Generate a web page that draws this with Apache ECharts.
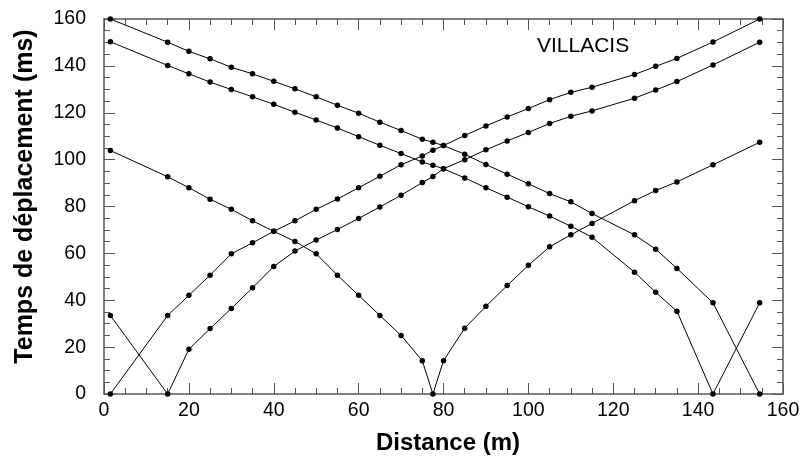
<!DOCTYPE html>
<html>
<head>
<meta charset="utf-8">
<script src="https://cdn.jsdelivr.net/npm/echarts@6/dist/echarts.min.js"></script>
<style>
html,body{margin:0;padding:0;background:#fff;}
#chart{width:804px;height:464px;}
</style>
</head>
<body>
<div id="chart"></div>
<script>
// Distances (m) of the geophones / shot points
const distances = [1.5, 15, 20, 25, 30, 35, 40, 45, 50, 55, 60, 65, 70, 75, 77.5, 80, 85, 90, 95, 100, 105, 110, 115, 125, 130, 135, 143.5, 154.5];

// Travel times (ms) for each shot
const shot154 = [160.0, 150.1, 146.2, 143.0, 139.4, 136.6, 133.4, 130.2, 126.8, 123.2, 119.8, 116.0, 112.4, 108.7, 107.4, 106.0, 102.3, 97.9, 93.8, 89.7, 85.5, 82.0, 77.0, 67.9, 61.8, 53.6, 38.9, 0];
const shot143 = [150.3, 140.2, 136.6, 133.1, 129.9, 126.8, 123.6, 120.2, 116.9, 113.5, 109.8, 106.1, 102.6, 99.0, 97.6, 96.1, 92.2, 88.0, 84.0, 79.9, 75.9, 71.6, 66.9, 52.0, 43.4, 35.3, 0, 38.9];
const shot77 = [103.9, 92.7, 88.0, 83.1, 78.8, 73.9, 69.4, 65.1, 59.8, 50.7, 42.1, 33.5, 25.0, 14.2, 0, 14.2, 28.1, 37.4, 46.3, 54.9, 62.8, 67.9, 72.8, 82.5, 86.8, 90.5, 97.8, 107.4];
const shot15 = [33.5, 0, 19.1, 27.9, 36.5, 45.3, 54.4, 61.0, 65.7, 70.2, 74.9, 79.8, 84.8, 90.2, 92.8, 96.1, 100.0, 104.2, 108.0, 111.6, 115.4, 118.5, 120.8, 126.2, 129.7, 133.3, 140.4, 150.1];
const shot1 = [0, 33.5, 42.1, 50.7, 59.8, 64.5, 69.4, 73.9, 78.8, 83.2, 88.0, 92.9, 97.8, 101.6, 104.0, 106.0, 110.3, 114.4, 118.2, 121.8, 125.6, 128.7, 130.9, 136.3, 139.8, 143.2, 150.2, 160.0];

const xTitle = 'Distance (m)';
const yTitle = 'Temps de déplacement (ms)';
const siteLabel = 'VILLACIS';

const FONT = '"Liberation Sans", Arial, Helvetica, sans-serif';
const AXIS_COLOR = '#555';

function pairs(vals) { return distances.map((d, i) => [d, vals[i]]); }

const chart = echarts.init(document.getElementById('chart'), null, {renderer: 'canvas'});

function axisBase(showLabel) {
  return {
    axisLine: {show: true, onZero: false, lineStyle: {color: AXIS_COLOR, width: 1.5}},
    axisTick: {show: true, inside: true, length: 11, lineStyle: {color: AXIS_COLOR, width: 1}},
    minorTick: {show: true, splitNumber: 4, length: 6, lineStyle: {color: AXIS_COLOR, width: 1}},
    splitLine: {show: false},
    minorSplitLine: {show: false},
    axisLabel: showLabel ? {show: true, color: '#000', fontSize: 19, fontFamily: FONT} : {show: false}
  };
}

const series = [shot154, shot143, shot77, shot15, shot1].map((vals, i) => ({
  type: 'line',
  name: 's' + i,
  data: pairs(vals),
  symbol: 'circle',
  symbolSize: 5.5,
  showSymbol: true,
  itemStyle: {color: '#000'},
  lineStyle: {color: '#000', width: 1},
  silent: true
}));

chart.setOption({
  backgroundColor: '#fff',
  animation: false,
  grid: {left: 104, right: 21, top: 19, bottom: 70, outerBoundsMode: 'none', containLabel: false},
  xAxis: [
    Object.assign(axisBase(true), {
      type: 'value', min: 0, max: 160, interval: 20, position: 'bottom',
      name: xTitle, nameLocation: 'middle', nameGap: 37,
      nameTextStyle: {fontSize: 24, fontWeight: 'bold', color: '#000', fontFamily: FONT, padding: [0, 0, 0, 9]},
      axisLabel: {show: true, color: '#000', fontSize: 19.5, fontFamily: FONT, margin: 7}
    }),
    Object.assign(axisBase(false), {
      type: 'value', min: 0, max: 160, interval: 20, position: 'top'
    })
  ],
  yAxis: [
    Object.assign(axisBase(true), {
      type: 'value', min: 0, max: 160, interval: 20, position: 'left',
      name: yTitle, nameLocation: 'middle', nameGap: 66, nameRotate: 90,
      nameTextStyle: {fontSize: 25, fontWeight: 'bold', color: '#000', fontFamily: FONT, padding: [0, 0, 0, 20]},
      axisLabel: {show: true, color: '#000', fontSize: 19.5, fontFamily: FONT, margin: 18}
    }),
    Object.assign(axisBase(false), {
      type: 'value', min: 0, max: 160, interval: 20, position: 'right'
    })
  ],
  graphic: [{
    type: 'text',
    left: 537, top: 36,
    style: {text: siteLabel, fontSize: 21, fontFamily: FONT, fill: '#000'}
  }],
  series: series
});
</script>
</body>
</html>
